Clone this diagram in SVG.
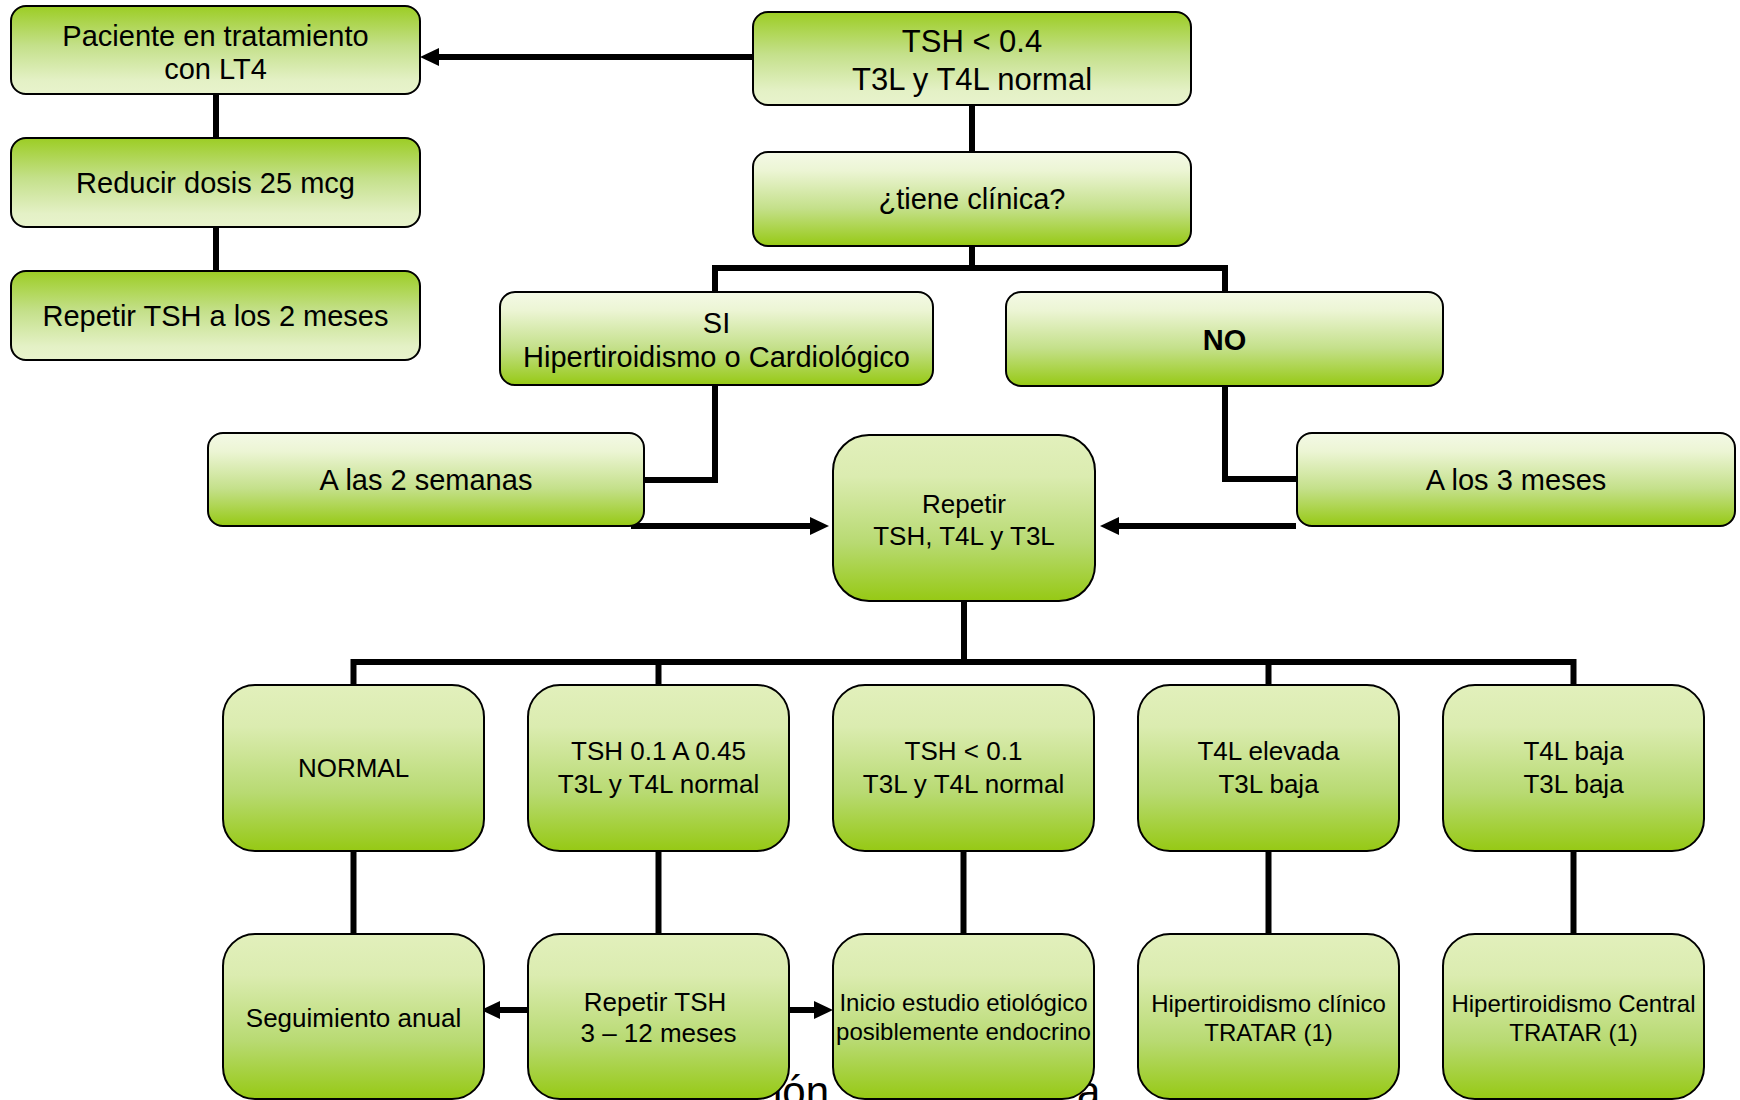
<svg xmlns="http://www.w3.org/2000/svg" width="1740" height="1100" viewBox="0 0 1740 1100">
<defs>
<linearGradient id="gWide" x1="0" y1="0" x2="0" y2="1">
<stop offset="0" stop-color="#f4f9e6"/>
<stop offset="0.2" stop-color="#ecf5d4"/>
<stop offset="0.6" stop-color="#c4e08a"/>
<stop offset="1" stop-color="#96c914"/>
</linearGradient>
<linearGradient id="gSq" x1="0" y1="0" x2="0" y2="1">
<stop offset="0" stop-color="#e2f0bc"/>
<stop offset="0.25" stop-color="#dbecb0"/>
<stop offset="0.65" stop-color="#b8da72"/>
<stop offset="1" stop-color="#96c914"/>
</linearGradient>
<linearGradient id="gRev" x1="0" y1="0" x2="0" y2="1">
<stop offset="0" stop-color="#9ccd24"/>
<stop offset="0.45" stop-color="#c4e08a"/>
<stop offset="0.85" stop-color="#e4f1c6"/>
<stop offset="1" stop-color="#e8f3cc"/>
</linearGradient>
<marker id="ah" markerUnits="userSpaceOnUse" markerWidth="19" markerHeight="18" refX="0" refY="9" orient="auto">
<path d="M0,0 L19,9 L0,18 z" fill="#000"/>
</marker>
<style>
.box{stroke:#000;stroke-width:2}
.wide{fill:url(#gWide)}
.sq{fill:url(#gSq)}
.rev{fill:url(#gRev)}
.t{font-family:"Liberation Sans",Arial,sans-serif;fill:#000;text-anchor:middle}
.f29{font-size:29px}
.f31{font-size:31px}
.f26{font-size:26px}
.f24{font-size:24px}
.b{font-weight:bold}
.c{fill:none;stroke:#000;stroke-width:6}
.bg{font-family:"Liberation Sans",Arial,sans-serif;font-size:42px;fill:#000}
</style>
</defs>

<g id="background-text">
<text class="bg" x="773" y="1106">ión</text>
<text class="bg" x="1077" y="1106">a</text>
</g>

<g id="connectors">
<path class="c" d="M216,94 V138"/>
<path class="c" d="M216,227 V271"/>
<path class="c" d="M753,57 H439" marker-end="url(#ah)"/>
<path class="c" d="M972,105 V152"/>
<path class="c" d="M972,246 V268"/>
<path class="c" d="M715,292 V268 H1225 V292"/>
<path class="c" d="M715,385 V480 H644"/>
<path class="c" d="M1225,386 V479 H1297"/>
<path class="c" d="M631,526 H810" marker-end="url(#ah)"/>
<path class="c" d="M1296,526 H1119" marker-end="url(#ah)"/>
<path class="c" d="M964,601 V662"/>
<path class="c" d="M353.5,685 V662 H1573.5 V685"/>
<path class="c" d="M658.5,662 V685"/>
<path class="c" d="M1268.5,662 V685"/>
<path class="c" d="M353.5,851 V934"/>
<path class="c" d="M658.5,851 V934"/>
<path class="c" d="M963.5,851 V934"/>
<path class="c" d="M1268.5,851 V934"/>
<path class="c" d="M1573.5,851 V934"/>
<path class="c" d="M527,1010 H500" marker-end="url(#ah)"/>
<path class="c" d="M789,1010 H814" marker-end="url(#ah)"/>
</g>

<g id="n-paciente">
<rect class="box rev" x="11" y="6" width="409" height="88" rx="15"/>
<text class="t f29" x="215.5" y="46">Paciente en tratamiento</text>
<text class="t f29" x="215.5" y="79">con LT4</text>
</g>
<g id="n-reducir">
<rect class="box rev" x="11" y="138" width="409" height="89" rx="15"/>
<text class="t f29" x="215.5" y="193">Reducir dosis 25 mcg</text>
</g>
<g id="n-repetir2m">
<rect class="box rev" x="11" y="271" width="409" height="89" rx="15"/>
<text class="t f29" x="215.5" y="326">Repetir TSH a los 2 meses</text>
</g>

<g id="n-tsh04">
<rect class="box rev" x="753" y="12" width="438" height="93" rx="15"/>
<text class="t f31" x="972" y="52">TSH &lt; 0.4</text>
<text class="t f31" x="972" y="90">T3L y T4L normal</text>
</g>
<g id="n-clinica">
<rect class="box wide" x="753" y="152" width="438" height="94" rx="15"/>
<text class="t f29" x="972" y="209">¿tiene clínica?</text>
</g>
<g id="n-si">
<rect class="box wide" x="500" y="292" width="433" height="93" rx="15"/>
<text class="t f29" x="716.5" y="333">SI</text>
<text class="t f29" x="716.5" y="367">Hipertiroidismo o Cardiológico</text>
</g>
<g id="n-no">
<rect class="box wide" x="1006" y="292" width="437" height="94" rx="15"/>
<text class="t f29 b" x="1224.5" y="350">NO</text>
</g>
<g id="n-2semanas">
<rect class="box wide" x="208" y="433" width="436" height="93" rx="15"/>
<text class="t f29" x="426" y="490">A las 2 semanas</text>
</g>
<g id="n-3meses">
<rect class="box wide" x="1297" y="433" width="438" height="93" rx="15"/>
<text class="t f29" x="1516" y="490">A los 3 meses</text>
</g>
<g id="n-repetir">
<rect class="box sq" x="833" y="435" width="262" height="166" rx="36"/>
<text class="t f26" x="964" y="513">Repetir</text>
<text class="t f26" x="964" y="545">TSH, T4L y T3L</text>
</g>

<g id="n-normal">
<rect class="box sq" x="223" y="685" width="261" height="166" rx="32"/>
<text class="t f26" x="353.5" y="777">NORMAL</text>
</g>
<g id="n-tsh01045">
<rect class="box sq" x="528" y="685" width="261" height="166" rx="32"/>
<text class="t f26" x="658.5" y="760">TSH 0.1 A 0.45</text>
<text class="t f26" x="658.5" y="793">T3L y T4L normal</text>
</g>
<g id="n-tsh01">
<rect class="box sq" x="833" y="685" width="261" height="166" rx="32"/>
<text class="t f26" x="963.5" y="760">TSH &lt; 0.1</text>
<text class="t f26" x="963.5" y="793">T3L y T4L normal</text>
</g>
<g id="n-t4lelevada">
<rect class="box sq" x="1138" y="685" width="261" height="166" rx="32"/>
<text class="t f26" x="1268.5" y="760">T4L elevada</text>
<text class="t f26" x="1268.5" y="793">T3L baja</text>
</g>
<g id="n-t4lbaja">
<rect class="box sq" x="1443" y="685" width="261" height="166" rx="32"/>
<text class="t f26" x="1573.5" y="760">T4L baja</text>
<text class="t f26" x="1573.5" y="793">T3L baja</text>
</g>

<g id="n-seguimiento">
<rect class="box sq" x="223" y="934" width="261" height="165" rx="32"/>
<text class="t f26" x="353.5" y="1027">Seguimiento anual</text>
</g>
<g id="n-repetirtsh">
<rect class="box sq" x="528" y="934" width="261" height="165" rx="32"/>
<text class="t f26" x="655" y="1011">Repetir TSH</text>
<text class="t f26" x="658.5" y="1042">3 – 12 meses</text>
</g>
<g id="n-inicio">
<rect class="box sq" x="833" y="934" width="261" height="165" rx="32"/>
<text class="t f24" x="963.5" y="1011">Inicio estudio etiológico</text>
<text class="t f24" x="963.5" y="1040">posiblemente endocrino</text>
</g>
<g id="n-hiperclinico">
<rect class="box sq" x="1138" y="934" width="261" height="165" rx="32"/>
<text class="t f24" x="1268.5" y="1012">Hipertiroidismo clínico</text>
<text class="t f24" x="1268.5" y="1041">TRATAR (1)</text>
</g>
<g id="n-hipercentral">
<rect class="box sq" x="1443" y="934" width="261" height="165" rx="32"/>
<text class="t f24" x="1573.5" y="1012">Hipertiroidismo Central</text>
<text class="t f24" x="1573.5" y="1041">TRATAR (1)</text>
</g>
</svg>
